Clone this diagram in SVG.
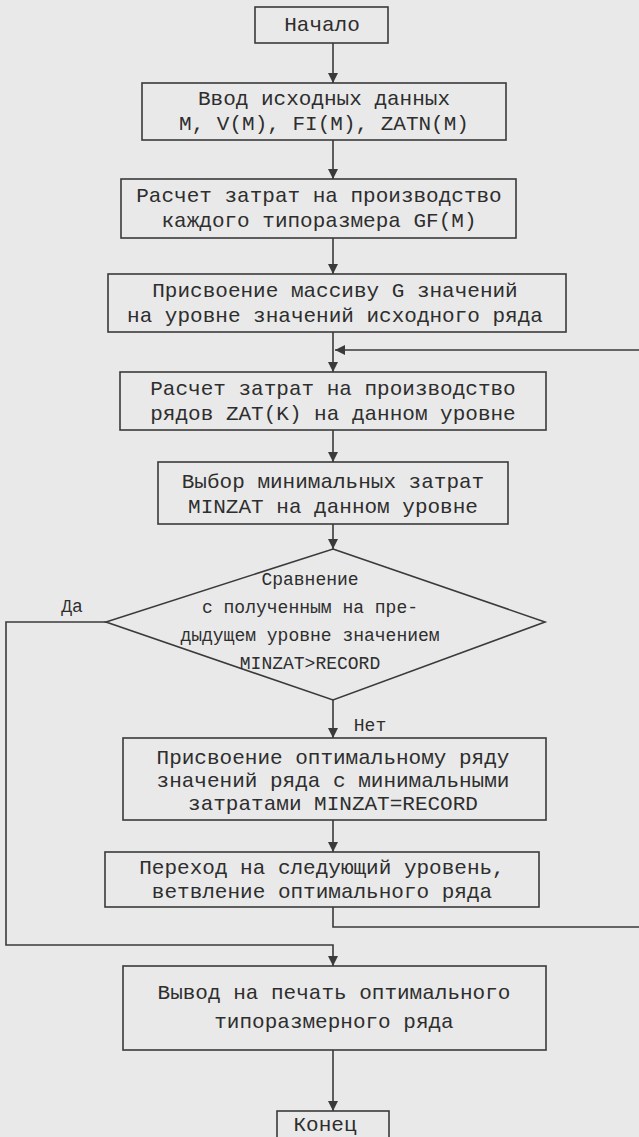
<svg xmlns="http://www.w3.org/2000/svg" width="639" height="1137" viewBox="0 0 639 1137">
<style>
.box{fill:none;stroke:#3a3a3a;stroke-width:1.6}
.ln{fill:none;stroke:#3a3a3a;stroke-width:1.6}
.t{font-family:"Liberation Mono","Courier New",monospace;font-size:21px;fill:#2e2e2e;text-anchor:middle;dominant-baseline:central}
.d{font-size:18px}
</style>
<defs>
<marker id="ah" markerWidth="10" markerHeight="10" refX="10" refY="5" orient="auto" markerUnits="userSpaceOnUse">
<path d="M0,0 L10,5 L0,10 Z" fill="#3a3a3a"/>
</marker>
</defs>
<rect x="0" y="0" width="639" height="1137" fill="#e9e9e9"/>
<g id="connectors">
<line class="ln" x1="333" y1="43" x2="333" y2="83" marker-end="url(#ah)"/>
<line class="ln" x1="333" y1="140" x2="333" y2="179" marker-end="url(#ah)"/>
<line class="ln" x1="333" y1="238" x2="333" y2="274" marker-end="url(#ah)"/>
<line class="ln" x1="333" y1="332" x2="333" y2="372" marker-end="url(#ah)"/>
<line class="ln" x1="333" y1="430" x2="333" y2="462" marker-end="url(#ah)"/>
<line class="ln" x1="333" y1="524" x2="333" y2="549" marker-end="url(#ah)"/>
<line class="ln" x1="333" y1="700" x2="333" y2="738" marker-end="url(#ah)"/>
<line class="ln" x1="333" y1="820" x2="333" y2="852" marker-end="url(#ah)"/>
<polyline class="ln" points="333,907 333,927 650,927 650,350 335,350" marker-end="url(#ah)"/>
<polyline class="ln" points="106,622 6,622 6,945 333,945 333,966" marker-end="url(#ah)"/>
<line class="ln" x1="333" y1="1050" x2="333" y2="1111" marker-end="url(#ah)"/>
<text class="t d" x="72" y="607">Да</text>
<text class="t d" x="370" y="726">Нет</text>
</g>
<g id="start">
<rect class="box" x="255" y="7" width="133" height="36"/>
<text class="t" x="322" y="25">Начало</text>
</g>
<g id="input">
<rect class="box" x="142" y="83" width="364" height="57"/>
<text class="t" x="324" y="99">Ввод исходных данных</text>
<text class="t" x="324" y="124">M, V(M), FI(M), ZATN(M)</text>
</g>
<g id="calc-gf">
<rect class="box" x="121" y="179" width="395" height="59"/>
<text class="t" x="319" y="196">Расчет затрат на производство</text>
<text class="t" x="319" y="221">каждого типоразмера GF(M)</text>
</g>
<g id="assign-g">
<rect class="box" x="108" y="274" width="458" height="58"/>
<text class="t" x="335" y="291">Присвоение массиву G значений</text>
<text class="t" x="335" y="316">на уровне значений исходного ряда</text>
</g>
<g id="calc-zat">
<rect class="box" x="120" y="372" width="426" height="58"/>
<text class="t" x="333" y="389">Расчет затрат на производство</text>
<text class="t" x="333" y="414">рядов ZAT(K) на данном уровне</text>
</g>
<g id="min">
<rect class="box" x="158" y="462" width="350" height="62"/>
<text class="t" x="333" y="482">Выбор минимальных затрат</text>
<text class="t" x="333" y="507">MINZAT на данном уровне</text>
</g>
<g id="compare">
<polygon class="box" points="333,549 545,622 333,700 106,622"/>
<text class="t d" x="310" y="580">Сравнение</text>
<text class="t d" x="310" y="608">с полученным на пре-</text>
<text class="t d" x="310" y="636">дыдущем уровне значением</text>
<text class="t d" x="310" y="664">MINZAT&gt;RECORD</text>
</g>
<g id="assign-opt">
<rect class="box" x="123" y="738" width="423" height="82"/>
<text class="t" x="333" y="758">Присвоение оптимальному ряду</text>
<text class="t" x="333" y="781">значений ряда с минимальными</text>
<text class="t" x="333" y="804">затратами MINZAT=RECORD</text>
</g>
<g id="next-level">
<rect class="box" x="105" y="852" width="434" height="55"/>
<text class="t" x="322" y="868">Переход на следующий уровень,</text>
<text class="t" x="322" y="892">ветвление оптимального ряда</text>
</g>
<g id="output">
<rect class="box" x="123" y="966" width="423" height="84"/>
<text class="t" x="334" y="993">Вывод на печать оптимального</text>
<text class="t" x="334" y="1022">типоразмерного ряда</text>
</g>
<g id="end">
<rect class="box" x="277" y="1111" width="112" height="40"/>
<text class="t" x="325" y="1125">Конец</text>
</g>
</svg>
